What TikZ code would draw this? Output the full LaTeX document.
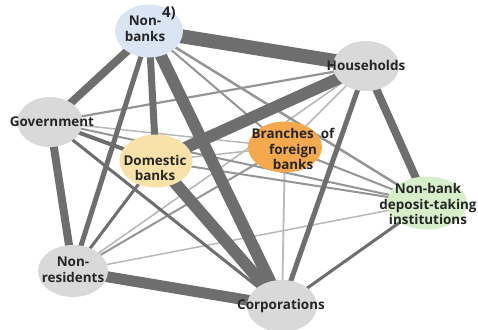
\documentclass[tikz,border=0pt]{standalone}
\usepackage{fontspec}
\setmainfont{Open Sans}
\usetikzlibrary{shapes.geometric}
\definecolor{edark}{HTML}{6E6E6E}
\definecolor{emid}{HTML}{959595}
\definecolor{elight}{HTML}{B8B8B8}
\definecolor{ngray}{HTML}{D9D9D9}
\definecolor{nblue}{HTML}{DAE5F4}
\definecolor{nyellow}{HTML}{F8E2A9}
\definecolor{norange}{HTML}{F5A94F}
\definecolor{ngreen}{HTML}{D7EECB}
\definecolor{tcol}{HTML}{262626}
\begin{document}
\begin{tikzpicture}[x=1bp,y=-1bp,
  blob/.style={ellipse,draw=none,inner sep=0pt},
  lab/.style={text=tcol,font=\fontsize{13.5}{15.8}\selectfont\bfseries,align=center,inner sep=0pt},
  suplab/.style={text=tcol,font=\fontsize{15}{16}\selectfont\bfseries,inner sep=0pt},
  dk/.style={draw=edark,line width=#1 bp},
  md/.style={draw=emid,line width=#1 bp},
  lt/.style={draw=elight,line width=#1 bp}]
\useasboundingbox (0,0) rectangle (478,329);
% node positions
\coordinate (NB) at (149,31);
\coordinate (HH) at (366,66);
\coordinate (G) at (50,122);
\coordinate (DB) at (156,161);
\coordinate (BF) at (285,147);
\coordinate (ND) at (427,203);
\coordinate (NR) at (73,271);
\coordinate (C) at (282,306);
% light edges
\draw[lt=1.5] (NR) -- (ND);
\draw[lt=1.8] (BF) -- (C);
\draw[lt=1.5] (HH) -- (BF);
\draw[lt=1.5] (G) -- (BF);
\draw[lt=1.6] (NR) -- (HH);
\draw[lt=1.5] (DB) -- (BF);
% medium edges
\draw[md=2.2] (G) -- (HH);
\draw[md=2] (G) -- (ND);
\draw[md=2] (DB) -- (ND);
\draw[md=2] (BF) -- (ND);
\draw[md=2] (NR) -- (BF);
\draw[md=2] (NB) -- (BF);
\draw[md=2.5] (NB) -- (ND);
% dark edges
\draw[dk=3] (C) -- (ND);
\draw[dk=3] (DB) -- (NR);
\draw[dk=3] (G) -- (C);
\draw[dk=4] (G) -- (DB);
\draw[dk=5] (HH) -- (C);
\draw[dk=5] (NB) -- (NR);
\draw[dk=7] (NB) -- (DB);
\draw[dk=8] (HH) -- (ND);
\draw[dk=8] (G) -- (NR);
\draw[dk=8] (NB) -- (G);
\draw[dk=11] (NR) -- (C);
\draw[dk=12] (DB) -- (C);
\draw[dk=12] (HH) -- (DB);
\draw[dk=12] (NB) -- (C);
\draw[dk=14] (NB) -- (HH);
% nodes
\node[blob,fill=nblue,minimum width=68bp,minimum height=53bp] (nNB) at (NB) {};
\node[blob,fill=ngray,minimum width=66bp,minimum height=50bp] (nHH) at (HH) {};
\node[blob,fill=ngray,minimum width=65bp,minimum height=50bp] (nG) at (G) {};
\node[blob,fill=nyellow,minimum width=73bp,minimum height=53bp] (nDB) at (DB) {};
\node[blob,fill=norange,minimum width=74bp,minimum height=51bp] (nBF) at (BF) {};
\node[blob,fill=ngreen,minimum width=80bp,minimum height=53bp] (nND) at (ND) {};
\node[blob,fill=ngray,minimum width=70bp,minimum height=52bp] (nNR) at (NR) {};
\node[blob,fill=ngray,minimum width=70bp,minimum height=52bp] (nC) at (C) {};
% labels
\node[lab] (tNB) at (145,29) {Non-\\banks};
\node[suplab,anchor=base west] (tsup) at (162,17) {4)};
\node[lab] (tHH) at (366,65) {Households};
\node[lab] (tG) at (52,122) {Government};
\node[lab] (tDB) at (155,168) {Domestic\\banks};
\node[lab] (tBF) at (293,149) {Branches\ \ of\\foreign\\banks};
\node[lab] (tND) at (428,204) {Non-bank\\deposit-taking\\institutions};
\node[lab] (tNR) at (73,270) {Non-\\residents};
\node[lab] (tC) at (281,306) {Corporations};
\end{tikzpicture}
\end{document}
